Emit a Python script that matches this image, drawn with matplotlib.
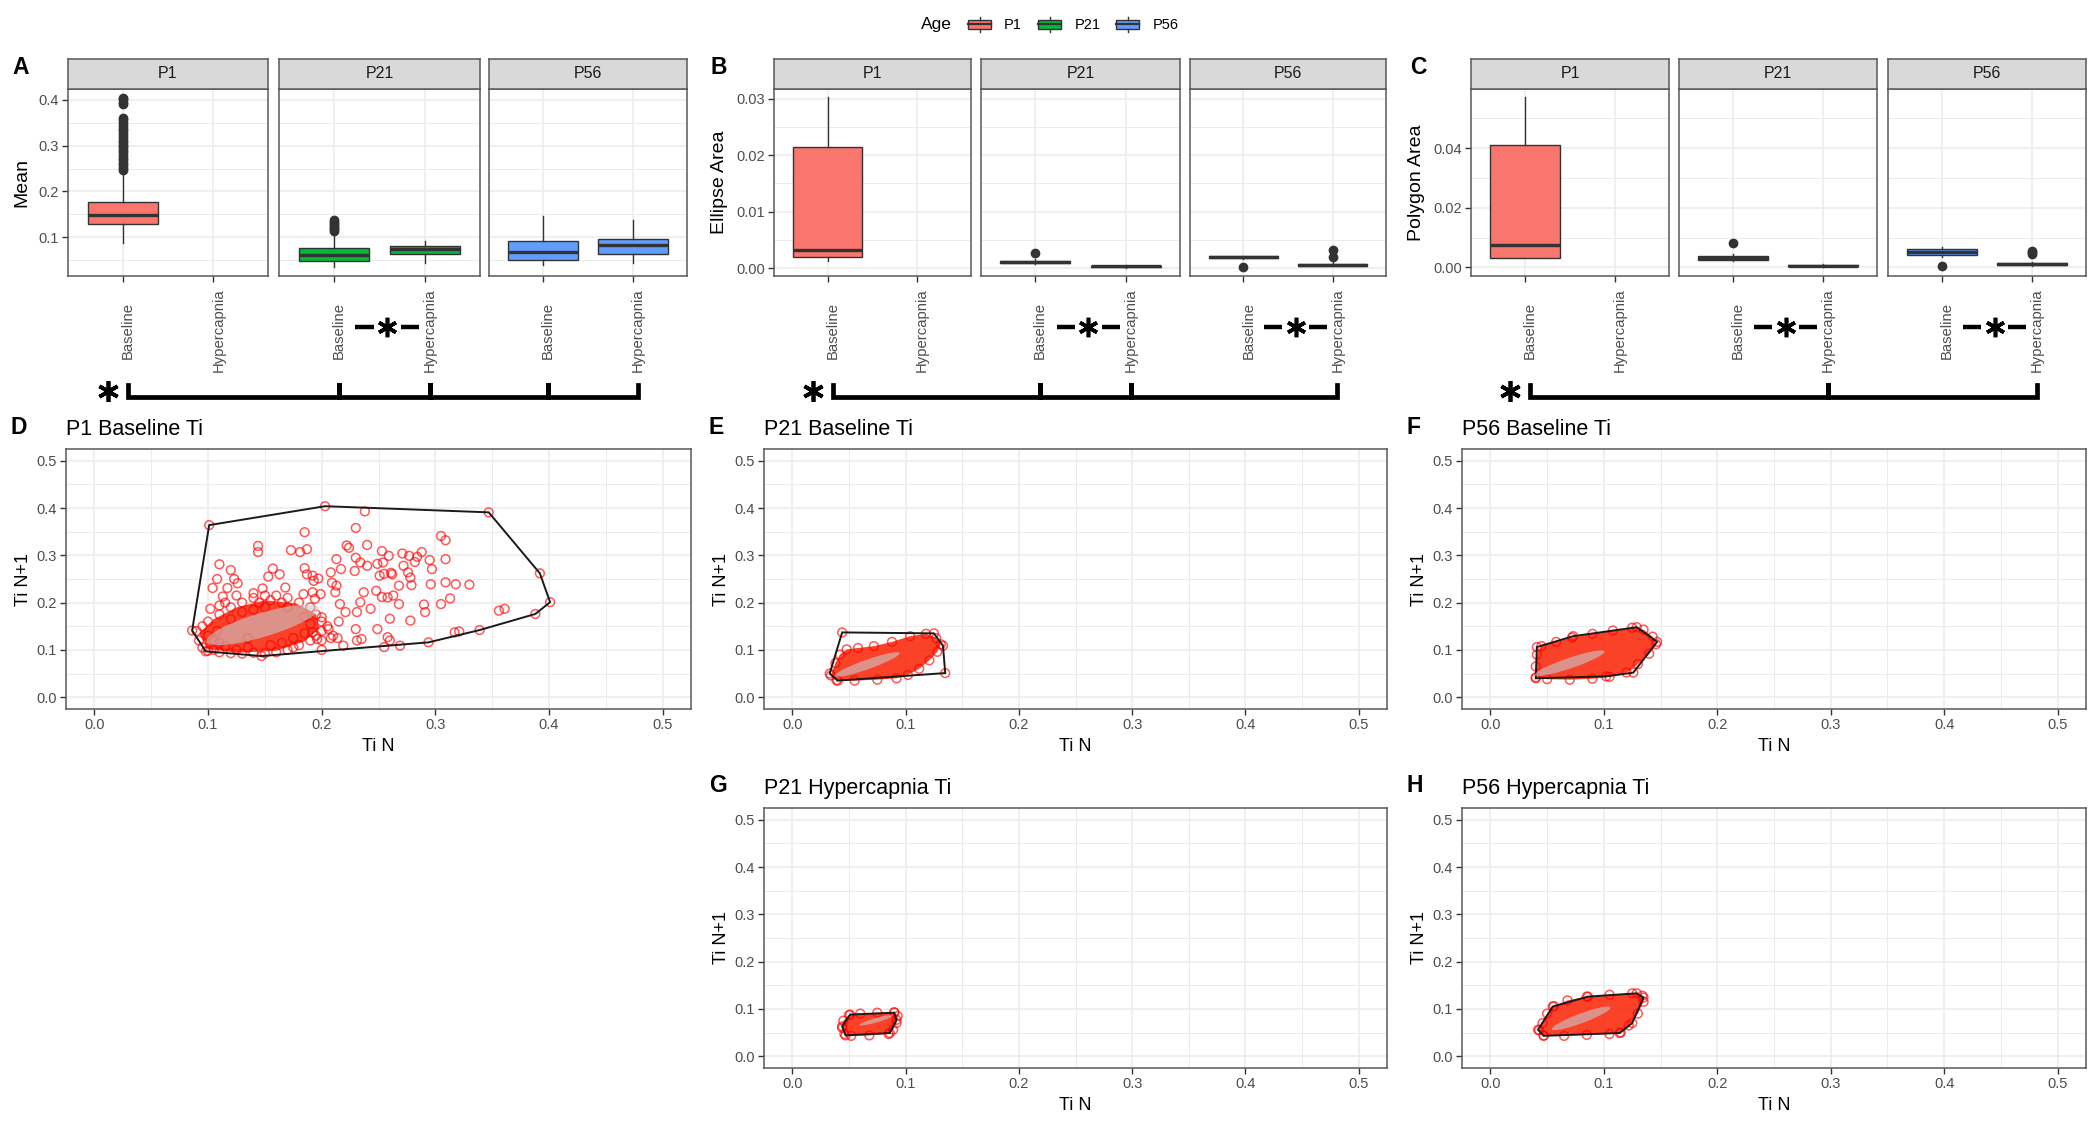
import numpy as np
import matplotlib.pyplot as plt
from matplotlib.patches import Rectangle, Ellipse, Polygon, Patch
from matplotlib.lines import Line2D
from matplotlib.legend_handler import HandlerBase
from matplotlib.ticker import MultipleLocator, FormatStrFormatter

plt.rcParams['font.family'] = ['Liberation Sans', 'DejaVu Sans']

W, H = 2100, 1125

ages = ['P1', 'P21', 'P56']
conditions = ['Baseline', 'Hypercapnia']
age_colors = ['#F8766D', '#00BA38', '#619CFF']

# box summaries per age: [low whisker, Q1, median, Q3, high whisker] for Baseline / Hypercapnia
mean_box = [
    [[0.088, 0.129, 0.149, 0.177, 0.243], None],
    [[0.034, 0.048, 0.062, 0.077, 0.110], [0.044, 0.064, 0.075, 0.080, 0.091]],
    [[0.039, 0.050, 0.068, 0.091, 0.147], [0.044, 0.064, 0.082, 0.096, 0.137]],
]
mean_out = [
    [[0.246, 0.251, 0.257, 0.262, 0.268, 0.274, 0.279, 0.285, 0.291, 0.296, 0.302, 0.308,
      0.313, 0.319, 0.325, 0.331, 0.337, 0.343, 0.349, 0.355, 0.361, 0.391, 0.396, 0.401, 0.405], []],
    [[0.113, 0.117, 0.121, 0.125, 0.129, 0.133, 0.137], []],
    [[], []],
]
ellipse_box = [
    [[0.0013, 0.0020, 0.0032, 0.0214, 0.0302], None],
    [[0.0008, 0.0009, 0.0011, 0.0013, 0.0016], [0.0001, 0.0002, 0.0003, 0.0004, 0.0005]],
    [[0.0016, 0.0017, 0.0019, 0.0021, 0.0022], [0.0003, 0.0004, 0.0006, 0.0008, 0.0010]],
]
ellipse_out = [[[], []], [[0.0027], []], [[0.0002], [0.0019, 0.0032]]]
polygon_box = [
    [[0.0030, 0.0032, 0.0074, 0.0412, 0.0571], None],
    [[0.0020, 0.0024, 0.0031, 0.0038, 0.0045], [0.0002, 0.0004, 0.0006, 0.0008, 0.0010]],
    [[0.0036, 0.0040, 0.0052, 0.0063, 0.0068], [0.0006, 0.0009, 0.0012, 0.0015, 0.0018]],
]
polygon_out = [[[], []], [[0.0082], []], [[0.0004], [0.0046, 0.0050, 0.0055]]]

# Poincare plots (Ti N, Ti N+1)
d_points = [
    (0.101, 0.364), (0.203, 0.404), (0.347, 0.391), (0.392, 0.262), (0.401, 0.201), (0.388, 0.176),
    (0.339, 0.142), (0.294, 0.116), (0.147, 0.087), (0.098, 0.097), (0.086, 0.141),
    (0.238, 0.393), (0.230, 0.358), (0.185, 0.349), (0.144, 0.320), (0.144, 0.307), (0.173, 0.311),
    (0.181, 0.307), (0.187, 0.313), (0.222, 0.321), (0.224, 0.316), (0.240, 0.322), (0.305, 0.341),
    (0.309, 0.332), (0.110, 0.281), (0.120, 0.269), (0.108, 0.250), (0.123, 0.250), (0.126, 0.241),
    (0.104, 0.231), (0.117, 0.231), (0.113, 0.213), (0.102, 0.187), (0.110, 0.194), (0.157, 0.272),
    (0.163, 0.260), (0.153, 0.255), (0.148, 0.230), (0.168, 0.232), (0.185, 0.273), (0.187, 0.260),
    (0.192, 0.257), (0.197, 0.251), (0.193, 0.246), (0.184, 0.218), (0.192, 0.222), (0.194, 0.208),
    (0.199, 0.218), (0.208, 0.264), (0.213, 0.292), (0.217, 0.271), (0.209, 0.242), (0.213, 0.236),
    (0.212, 0.222), (0.216, 0.197), (0.221, 0.180), (0.200, 0.169), (0.206, 0.144), (0.214, 0.125),
    (0.208, 0.125), (0.219, 0.109), (0.192, 0.137), (0.196, 0.123), (0.229, 0.267), (0.230, 0.295),
    (0.234, 0.285), (0.240, 0.278), (0.237, 0.222), (0.234, 0.201), (0.243, 0.187), (0.231, 0.180),
    (0.230, 0.144), (0.235, 0.123), (0.231, 0.120), (0.249, 0.282), (0.251, 0.257), (0.253, 0.309),
    (0.248, 0.225), (0.253, 0.212), (0.258, 0.211), (0.255, 0.261), (0.259, 0.299), (0.254, 0.285),
    (0.261, 0.263), (0.268, 0.236), (0.263, 0.215), (0.262, 0.260), (0.260, 0.166), (0.249, 0.144),
    (0.258, 0.127), (0.255, 0.106), (0.260, 0.120), (0.269, 0.109), (0.271, 0.304), (0.272, 0.278),
    (0.276, 0.264), (0.277, 0.299), (0.278, 0.253), (0.279, 0.237), (0.284, 0.297), (0.288, 0.307),
    (0.282, 0.286), (0.295, 0.290), (0.297, 0.271), (0.296, 0.239), (0.290, 0.196), (0.291, 0.180),
    (0.278, 0.162), (0.268, 0.197), (0.309, 0.292), (0.309, 0.243), (0.305, 0.197), (0.313, 0.209),
    (0.318, 0.239), (0.330, 0.238), (0.317, 0.137), (0.321, 0.139), (0.356, 0.183), (0.361, 0.187),
    (0.090, 0.140), (0.092, 0.120), (0.095, 0.105), (0.100, 0.098), (0.105, 0.100), (0.110, 0.095),
    (0.120, 0.093), (0.130, 0.092), (0.140, 0.094), (0.150, 0.093), (0.160, 0.095), (0.170, 0.100),
    (0.175, 0.105), (0.180, 0.110), (0.190, 0.120), (0.195, 0.130), (0.200, 0.140), (0.200, 0.160),
    (0.195, 0.175), (0.190, 0.190), (0.180, 0.200), (0.170, 0.210), (0.160, 0.215), (0.150, 0.215),
    (0.140, 0.210), (0.130, 0.200), (0.120, 0.190), (0.110, 0.175), (0.100, 0.160), (0.095, 0.150),
    (0.100, 0.130), (0.105, 0.120), (0.110, 0.115), (0.115, 0.200), (0.125, 0.215), (0.140, 0.220),
    (0.145, 0.200), (0.155, 0.205), (0.165, 0.200), (0.170, 0.190), (0.185, 0.170), (0.190, 0.155),
    (0.185, 0.135), (0.175, 0.125), (0.165, 0.115), (0.155, 0.110), (0.135, 0.105), (0.125, 0.100),
    (0.115, 0.108), (0.108, 0.140), (0.120, 0.165), (0.130, 0.180), (0.140, 0.185), (0.150, 0.190),
    (0.135, 0.125), (0.200, 0.120), (0.210, 0.130), (0.205, 0.150), (0.215, 0.160), (0.200, 0.100),
]
d_core = [(0.092, 0.135), (0.100, 0.102), (0.125, 0.094), (0.160, 0.098), (0.185, 0.118), (0.198, 0.145),
          (0.195, 0.175), (0.178, 0.198), (0.150, 0.205), (0.125, 0.190), (0.105, 0.165)]
d_hull = [(0.101, 0.364), (0.203, 0.404), (0.347, 0.391), (0.392, 0.262), (0.401, 0.201), (0.388, 0.176),
          (0.339, 0.142), (0.294, 0.116), (0.147, 0.087), (0.098, 0.097), (0.086, 0.141)]
d_ell = (0.148, 0.153, 0.062, 0.021, 40)

e_cloud = [(0.034, 0.046), (0.039, 0.036), (0.055, 0.035), (0.075, 0.037), (0.092, 0.040), (0.102, 0.047),
           (0.112, 0.060), (0.121, 0.078), (0.128, 0.096), (0.131, 0.112), (0.127, 0.125), (0.118, 0.134),
           (0.104, 0.129), (0.088, 0.117), (0.072, 0.108), (0.058, 0.104), (0.048, 0.101), (0.042, 0.090),
           (0.038, 0.072)]
e_hull = [(0.044, 0.137), (0.125, 0.135), (0.133, 0.109), (0.135, 0.051), (0.040, 0.035), (0.033, 0.050)]
e_ell = (0.066, 0.069, 0.038, 0.008, 42)

f_cloud = [(0.040, 0.042), (0.050, 0.038), (0.070, 0.037), (0.090, 0.039), (0.105, 0.043), (0.120, 0.052),
           (0.130, 0.070), (0.140, 0.092), (0.146, 0.112), (0.143, 0.128), (0.135, 0.143), (0.125, 0.147),
           (0.108, 0.141), (0.090, 0.134), (0.072, 0.126), (0.058, 0.117), (0.045, 0.108), (0.041, 0.090),
           (0.040, 0.065)]
f_hull = [(0.041, 0.106), (0.073, 0.129), (0.129, 0.148), (0.147, 0.117), (0.126, 0.052), (0.102, 0.044),
          (0.040, 0.040)]
f_ell = (0.070, 0.072, 0.040, 0.009, 41)

g_cloud = [(0.044, 0.060), (0.046, 0.047), (0.052, 0.043), (0.068, 0.044), (0.085, 0.047), (0.089, 0.056),
           (0.092, 0.070), (0.093, 0.085), (0.090, 0.093), (0.075, 0.092), (0.060, 0.090), (0.050, 0.087),
           (0.045, 0.075)]
g_hull = [(0.051, 0.088), (0.090, 0.092), (0.092, 0.077), (0.086, 0.049), (0.047, 0.044), (0.044, 0.063)]
g_ell = (0.074, 0.076, 0.018, 0.004, 36)

h_cloud = [(0.043, 0.055), (0.047, 0.044), (0.065, 0.043), (0.085, 0.045), (0.105, 0.047), (0.115, 0.050),
           (0.122, 0.065), (0.130, 0.090), (0.135, 0.115), (0.134, 0.128), (0.125, 0.133), (0.105, 0.130),
           (0.085, 0.126), (0.068, 0.118), (0.056, 0.106), (0.050, 0.090), (0.046, 0.070)]
h_hull = [(0.055, 0.105), (0.086, 0.126), (0.129, 0.133), (0.135, 0.124), (0.125, 0.070), (0.114, 0.049),
          (0.047, 0.043), (0.042, 0.056)]
h_ell = (0.080, 0.080, 0.035, 0.008, 44)


fig = plt.figure(figsize=(W / 100, H / 100), dpi=100)

LAB_SHIFT = 0.055  # rotated labels sit a little right of the tick


def frame(l, t, r, b):
    return [l / W, 1 - b / H, (r - l) / W, (b - t) / H]


def style_axes(ax):
    for s in ax.spines.values():
        s.set_color('#595959')
        s.set_linewidth(1.1)
    ax.set_axisbelow(True)
    ax.tick_params(which='major', length=4, width=1, color='#333333', labelcolor='#4D4D4D',
                   labelsize=10.5, pad=2.5)
    ax.tick_params(which='minor', length=0)
    ax.grid(which='major', color='#EBEBEB', lw=1.1)
    ax.grid(which='minor', color='#EBEBEB', lw=0.7)


def box_panel(letter, lpos, ylabel, boxes, outs, cols, ylim, step, fmt, pairs, bracket, star_at):
    axs = []
    for i, (l, r) in enumerate(cols):
        ax = fig.add_axes(frame(l, 89, r, 276))
        strip = fig.add_axes(frame(l, 59, r, 89))
        strip.set_facecolor('#D9D9D9')
        strip.set_xticks([])
        strip.set_yticks([])
        for s in strip.spines.values():
            s.set_color('#595959')
            s.set_linewidth(1.1)
        strip.text(0.5, 0.5, ages[i], ha='center', va='center', fontsize=11.5,
                   color='#1A1A1A', transform=strip.transAxes)

        style_axes(ax)
        ax.set_xlim(0.4, 2.6)
        ax.set_ylim(*ylim)
        ax.set_xticks([1, 2])
        ax.tick_params(axis='x', labelbottom=False)
        ax.yaxis.set_major_locator(MultipleLocator(step))
        ax.yaxis.set_minor_locator(MultipleLocator(step / 2))
        ax.yaxis.set_major_formatter(FormatStrFormatter(fmt))

        stats, pos = [], []
        for k, summ in enumerate(boxes[i]):
            if summ is None:
                continue
            lo, q1, med, q3, hi = summ
            stats.append(dict(whislo=lo, q1=q1, med=med, q3=q3, whishi=hi, fliers=outs[i][k]))
            pos.append(k + 1)
        ax.bxp(stats, positions=pos, widths=0.77, patch_artist=True, showcaps=False, manage_ticks=False,
               boxprops=dict(facecolor=age_colors[i], edgecolor='#333333', linewidth=1),
               medianprops=dict(color='#333333', linewidth=2.4),
               whiskerprops=dict(color='#333333', linewidth=1),
               flierprops=dict(marker='o', markerfacecolor='#333333', markeredgecolor='#333333',
                               markersize=6))
        if i == 0:
            ax.set_ylabel(ylabel, fontsize=14, labelpad=6)
        else:
            ax.tick_params(axis='y', left=False, labelleft=False)
        for k, cond in enumerate(conditions):
            ax.text(k + 1 + LAB_SHIFT, -0.289, cond, transform=ax.get_xaxis_transform(), rotation=90,
                    ha='center', va='center', fontsize=10.7, color='#4D4D4D')
        axs.append(ax)

    # within-age comparison: -*-
    for i in pairs:
        ax = axs[i]
        tr = ax.get_xaxis_transform()
        c = 1.585
        for xs in ([c - 0.35, c - 0.15], [c + 0.15, c + 0.35]):
            ax.plot(xs, [-0.273, -0.273], color='k', lw=3.2, transform=tr, clip_on=False,
                    solid_capstyle='butt')
        ax.plot([c], [-0.273], marker=(6, 2, 0), ms=14, mew=2.6, color='k', transform=tr,
                clip_on=False)

    # between-age bracket
    def fx(i, x):
        d = axs[i].transData.transform((x, 0))
        return fig.transFigure.inverted().transform(d)[0]

    xs = [fx(i, c + LAB_SHIFT) for i, c in bracket]
    base, top = 1 - 397 / H, 1 - 385 / H
    fig.add_artist(Line2D([xs[0], xs[0], xs[-1], xs[-1]], [top, base, base, top], color='k', lw=3.4,
                          transform=fig.transFigure, solid_joinstyle='miter'))
    for x in xs[1:-1]:
        fig.add_artist(Line2D([x, x], [top, base], color='k', lw=3.6, transform=fig.transFigure))
    fig.add_artist(Line2D([fx(0, star_at)], [1 - 391 / H], marker=(6, 2, 0), ms=15, mew=2.7, color='k',
                          linestyle='none', transform=fig.transFigure))

    fig.text(lpos[0] / W, 1 - lpos[1] / H, letter, fontsize=16.5, fontweight='bold', ha='left', va='center')


def scatter_panel(box, letter, title, points, hull, ell, cloud):
    l, t, r, b = box
    ax = fig.add_axes(frame(l, t, r, b))
    style_axes(ax)
    ax.set_xlim(-0.025, 0.525)
    ax.set_ylim(-0.025, 0.525)
    for axis in (ax.xaxis, ax.yaxis):
        axis.set_major_locator(MultipleLocator(0.1))
        axis.set_minor_locator(MultipleLocator(0.05))
        axis.set_major_formatter(FormatStrFormatter('%.1f'))
    ax.add_patch(Polygon(cloud, closed=True, fc='#FA2D12', ec='none', alpha=0.9))
    pts = np.array(points)
    ax.scatter(pts[:, 0], pts[:, 1], s=40, facecolors='none', edgecolors=[(1, 0, 0, 0.65)], linewidths=1.1)
    ax.add_patch(Polygon(hull, closed=True, fill=False, ec='#1A1A1A', lw=1.4))
    cx, cy, a, bb, ang = ell
    ax.add_patch(Ellipse((cx, cy), 2 * a, 2 * bb, angle=ang, fc='#C8C8C8', ec='none', alpha=0.6))
    ax.set_xlabel('Ti N', fontsize=13, labelpad=4)
    ax.set_ylabel('Ti N+1', fontsize=13, labelpad=3)
    ax.set_title(title, loc='left', fontsize=15.5, pad=10)
    fig.text((l - 55) / W, 1 - (t - 22) / H, letter, fontsize=16.5, fontweight='bold', ha='left', va='center')


box_panel('A', (12, 68), 'Mean', mean_box, mean_out,
          [(68, 268), (279, 480), (489, 687)],
          (0.0154, 0.4236), 0.1, '%.1f', [1], [(0, 1), (1, 1), (1, 2), (2, 1), (2, 2)], 0.84)
box_panel('B', (711, 68), 'Ellipse Area', ellipse_box, ellipse_out,
          [(774, 971), (981, 1180), (1190, 1386)],
          (-0.0014, 0.0317), 0.01, '%.2f', [1, 2], [(0, 1), (1, 1), (1, 2), (2, 2)], 0.83)
box_panel('C', (1410, 68), 'Polygon Area', polygon_box, polygon_out,
          [(1471, 1669), (1679, 1877), (1888, 2086)],
          (-0.0029, 0.0599), 0.02, '%.2f', [1, 2], [(0, 1), (1, 2), (2, 2)], 0.83)

scatter_panel((66, 449, 691, 709), 'D', 'P1 Baseline Ti', d_points, d_hull, d_ell, d_core)
scatter_panel((764, 449, 1387, 709), 'E', 'P21 Baseline Ti', e_cloud + e_hull, e_hull, e_ell, e_cloud)
scatter_panel((1462, 449, 2086, 709), 'F', 'P56 Baseline Ti', f_cloud + f_hull, f_hull, f_ell, f_cloud)
scatter_panel((764, 808, 1387, 1068), 'G', 'P21 Hypercapnia Ti', g_cloud + g_hull, g_hull, g_ell, g_cloud)
scatter_panel((1462, 808, 2086, 1068), 'H', 'P56 Hypercapnia Ti', h_cloud + h_hull, h_hull, h_ell, h_cloud)


# legend with boxplot keys
class BoxKey(HandlerBase):
    def create_artists(self, legend, orig, xd, yd, w, h, fontsize, trans):
        x0, y0 = -xd, -yd
        rect = Rectangle((x0, y0 + 0.2 * h), w, 0.6 * h, fc=orig.get_facecolor(), ec='#333333', lw=1,
                         transform=trans)
        med = Line2D([x0, x0 + w], [y0 + h / 2] * 2, color='#333333', lw=1.6, transform=trans)
        lo = Line2D([x0 + w / 2] * 2, [y0, y0 + 0.2 * h], color='#333333', lw=1, transform=trans)
        hi = Line2D([x0 + w / 2] * 2, [y0 + 0.8 * h, y0 + h], color='#333333', lw=1, transform=trans)
        return [rect, med, lo, hi]


fig.text(921 / W, 1 - 25 / H, 'Age', fontsize=12.5, va='center', ha='left')
handles = [Patch(facecolor=c) for c in age_colors]
fig.legend(handles, ages, handler_map={Patch: BoxKey()}, loc='center left',
           bbox_to_anchor=(968 / W, 1 - 24.5 / H), ncol=3, frameon=False, fontsize=10.5,
           handlelength=1.58, handleheight=1.25, handletextpad=0.9, columnspacing=1.1,
           borderpad=0, borderaxespad=0)

fig.savefig('out.png', dpi=100, facecolor='white')
